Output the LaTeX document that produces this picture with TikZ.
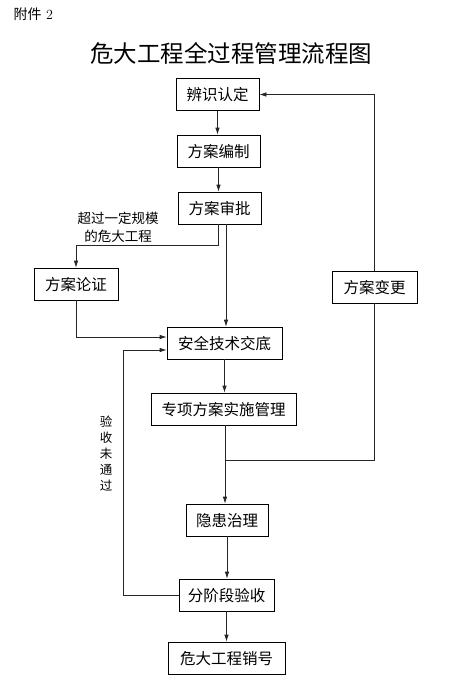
\documentclass[tikz,border=0pt]{standalone}
\usepackage{fontspec}
\newfontfamily\cjk{Noto Sans CJK SC}
\usetikzlibrary{arrows.meta}

\begin{document}
\begin{tikzpicture}[x = 1pt, y = -1pt, > = {Latex[length = 7pt, width = 4.5pt]},
	box/.style = {draw, line width = 0.7pt, minimum height = 32pt, inner sep = 0pt,
		text height = 1.35em, text depth = 0.12em, font = \cjk\fontsize{15.5}{18}\selectfont},
	note/.style = {align = center, inner sep = 0pt},
	link/.style = {line width = 0.7pt, black!85}]

	\useasboundingbox (0, 0) rectangle (463, 699);

	\node [anchor = west] (annex) at (10, 14) {\fontsize{14}{16}\selectfont{\cjk 附件} 2};
	\node (title) at (231, 53) {\cjk\fontsize{23.5}{28}\selectfont 危大工程全过程管理流程图};

	\begin{scope}[every node/.append style = box]

		\node [minimum width = 83pt] (identify) at (217.5, 94.5) {辨识认定};
		\node [minimum width = 83pt] (compile) at (218.5, 151) {方案编制};
		\node [minimum width = 83pt] (approve) at (219.5, 208) {方案审批};
		\node [minimum width = 84pt] (demo) at (76, 284) {方案论证};
		\node [minimum width = 115pt] (brief) at (224.5, 343) {安全技术交底};
		\node [minimum width = 85pt] (change) at (374.5, 287) {方案变更};
		\node [minimum width = 145pt] (implement) at (223.5, 409) {专项方案实施管理};
		\node [minimum width = 82pt] (hazard) at (227, 520) {隐患治理};
		\node [minimum width = 95pt] (accept) at (226.5, 595) {分阶段验收};
		\node [minimum width = 117pt] (close) at (226.5, 658) {危大工程销号};

	\end{scope}

	\node [note, font = \cjk\fontsize{13.5}{18}\selectfont] (oversize) at (118, 227) {超过一定规模\\的危大工程};
	\node [note, font = \cjk\fontsize{12.5}{16}\selectfont] (failed) at (106, 453.5) {验\\收\\未\\通\\过};

	\coordinate (split) at (218, 245);
	\coordinate (loop) at (123, 0);
	\coordinate (merge) at (225, 460);

	\begin{scope}[link, ->]

		\draw (identify.south) -- (identify.south |- compile.north);
		\draw (compile.south) -- (compile.south |- approve.north);
		\draw (split |- approve.south) -- (split) -| (demo.north);
		\draw ([xshift = 6.5pt] approve.south) -- ([xshift = 6.5pt] approve.south |- brief.north);
		\draw (demo.south) |- ([yshift = 6pt] brief.west);
		\draw (accept.west) -- (accept.west -| loop) |- ([yshift = -7pt] brief.west);
		\draw (brief.south) -- (brief.south |- implement.north);
		\draw (merge |- implement.south) -- (merge |- hazard.north);
		\draw (change.north) |- (identify.east);
		\draw (hazard.south) -- (hazard.south |- accept.north);
		\draw (accept.south) -- (accept.south |- close.north);

	\end{scope}

	\draw [link] (change.south) |- (merge);

\end{tikzpicture}
\end{document}
